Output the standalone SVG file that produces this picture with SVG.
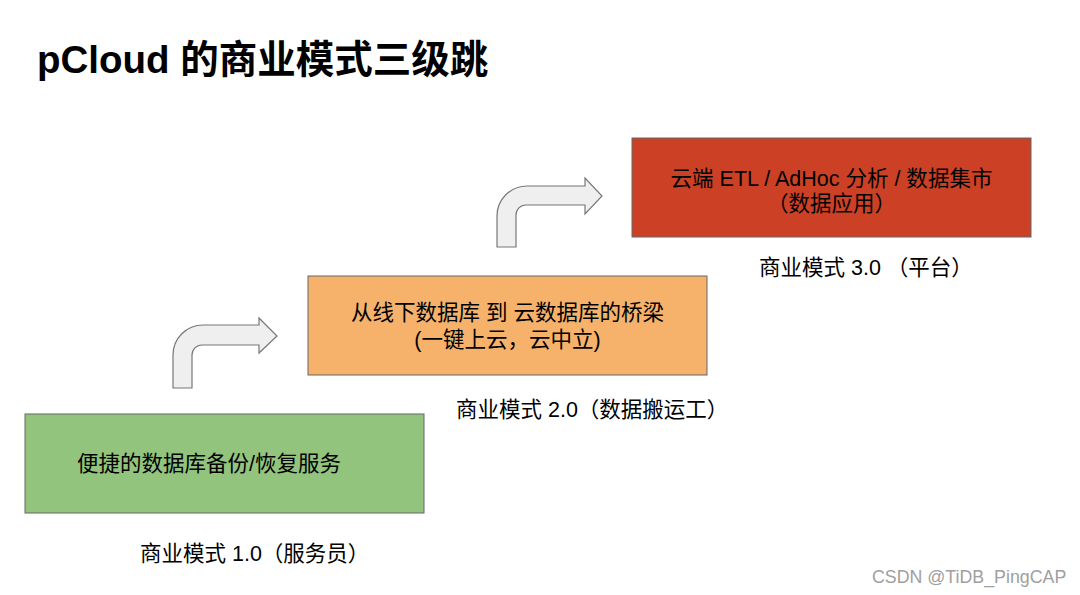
<svg xmlns="http://www.w3.org/2000/svg" width="1080" height="595" viewBox="0 0 1080 595">
<style>
text{font-family:"Liberation Sans","Noto Sans CJK SC",sans-serif;fill:#000}
.title{font-size:38.5px;font-weight:bold}
.t{font-size:21.5px}
.c{text-anchor:middle}
.box{stroke:#666;stroke-width:1}
.arrow{fill:#efefef;stroke:#777;stroke-width:1.2}
.wm{font-size:17.8px;fill:#a0a0a0}
</style>
<rect width="1080" height="595" fill="#fff"/>
<text class="title" x="37" y="73">pCloud 的商业模式三级跳</text>
<g id="connectors">
<path class="arrow" d="M173,388 L173,355 A30,30 0 0 1 203,325 L259,325 L259,318 L277,336 L259,353 L259,345 L202,345 A10,10 0 0 0 192,355 L192,388 Z"/>
<path class="arrow" d="M497,247 L497,216 A30,30 0 0 1 527,186 L585,186 L585,178 L602,196 L585,214 L585,205 L526,205 A10,10 0 0 0 516,215 L516,247 Z"/>
</g>
<g id="node1">
<rect class="box" x="25" y="414" width="399" height="99" fill="#93c47d"/>
<text class="t" x="77" y="471">便捷的数据库备份/恢复服务</text>
<text class="t" x="140" y="561">商业模式 1.0（服务员）</text>
</g>
<g id="node2">
<rect class="box" x="308" y="276" width="399" height="99" fill="#f6b26b"/>
<text class="t c" x="507.5" y="320">从线下数据库 到 云数据库的桥梁</text>
<text class="t c" x="507.5" y="347">(一键上云，云中立)</text>
<text class="t" x="456" y="417">商业模式 2.0（数据搬运工）</text>
</g>
<g id="node3">
<rect class="box" x="632" y="138" width="399" height="99" fill="#cc4125"/>
<text class="t c" x="831.5" y="186">云端 ETL / AdHoc 分析 / 数据集市</text>
<text class="t c" x="831.5" y="211">（数据应用）</text>
<text class="t" x="759" y="275">商业模式 3.0 （平台）</text>
</g>
<text class="wm" x="872" y="583">CSDN @TiDB_PingCAP</text>
</svg>
